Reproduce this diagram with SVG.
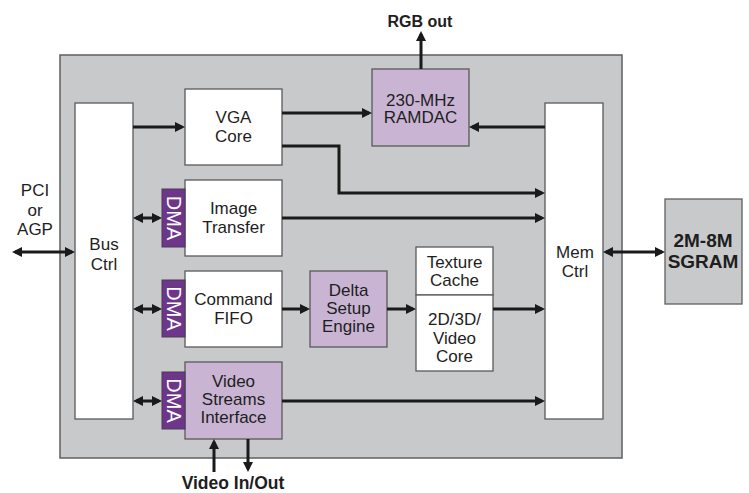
<svg xmlns="http://www.w3.org/2000/svg" width="749" height="493" viewBox="0 0 749 493">
<defs>
<style>
text{font-family:"Liberation Sans",Arial,sans-serif;fill:#1e1e1e}
.n{font-size:17px;text-anchor:middle}
.b{font-weight:bold;text-anchor:middle}
.box{fill:#ffffff;stroke:#5a5a5a;stroke-width:1.3}
.pur{fill:#c9b5d3;stroke:#5a5a5a;stroke-width:1.3}
.dma{fill:#6e368b;stroke:#4a3a55;stroke-width:1}
.dmat{font-size:20px;fill:#ffffff;text-anchor:middle;dominant-baseline:central}
.gray{fill:#c8c9cb;stroke:#5f5f5f;stroke-width:1.5}
.c{fill:none;stroke:#1a1a1a;stroke-width:3}
</style>
<marker id="ah" markerUnits="userSpaceOnUse" markerWidth="10" markerHeight="10" refX="7" refY="5" orient="auto-start-reverse">
<path d="M0,0 L10,5 L0,10 z" fill="#1a1a1a"/>
</marker>
</defs>
<rect width="749" height="493" fill="#ffffff"/>
<g id="chip"><rect class="gray" x="60" y="55" width="562" height="403"/></g>
<g id="bus-ctrl"><rect class="box" x="75" y="103" width="58" height="316"/>
<text class="n" x="104" y="250">Bus</text><text class="n" x="104" y="270">Ctrl</text></g>
<g id="mem-ctrl"><rect class="box" x="545" y="103" width="58" height="316"/>
<text class="n" x="575" y="258">Mem</text><text class="n" x="575" y="277">Ctrl</text></g>
<g id="vga-core"><rect class="box" x="185" y="89" width="97" height="76"/>
<text class="n" x="233.5" y="123">VGA</text><text class="n" x="233.5" y="142">Core</text></g>
<g id="ramdac"><rect class="pur" x="372" y="69" width="97" height="77"/>
<text class="n" x="420.5" y="105.5">230-MHz</text><text class="n" x="420.5" y="123">RAMDAC</text></g>
<g id="image-transfer"><rect class="box" x="185" y="180" width="97" height="76"/>
<text class="n" x="233.5" y="214">Image</text><text class="n" x="233.5" y="233">Transfer</text></g>
<g id="dma-1"><rect class="dma" x="162" y="189" width="23" height="58"/>
<text class="dmat" transform="translate(174,218) rotate(90)">DMA</text></g>
<g id="command-fifo"><rect class="box" x="185" y="271" width="97" height="76"/>
<text class="n" x="233.5" y="305">Command</text><text class="n" x="233.5" y="324">FIFO</text></g>
<g id="dma-2"><rect class="dma" x="162" y="280" width="23" height="57"/>
<text class="dmat" transform="translate(174,308.5) rotate(90)">DMA</text></g>
<g id="video-streams"><rect class="pur" x="185" y="362" width="97" height="77"/>
<text class="n" x="233.5" y="387">Video</text><text class="n" x="233.5" y="405">Streams</text><text class="n" x="233.5" y="423">Interface</text></g>
<g id="dma-3"><rect class="dma" x="162" y="372" width="23" height="57"/>
<text class="dmat" transform="translate(174,400.5) rotate(90)">DMA</text></g>
<g id="delta-setup"><rect class="pur" x="310" y="271" width="77" height="76"/>
<text class="n" x="348.5" y="296">Delta</text><text class="n" x="348.5" y="314">Setup</text><text class="n" x="348.5" y="332">Engine</text></g>
<g id="texture-cache"><rect class="box" x="416" y="247" width="77" height="48"/>
<text class="n" x="454.5" y="267.5">Texture</text><text class="n" x="454.5" y="285.5">Cache</text></g>
<g id="video-core"><rect class="box" x="416" y="295" width="77" height="76"/>
<text class="n" x="454.5" y="325">2D/3D/</text><text class="n" x="454.5" y="343.5">Video</text><text class="n" x="454.5" y="362">Core</text></g>
<g id="sgram"><rect class="gray" x="665" y="199" width="77" height="105" style="stroke-width:1.3"/>
<text class="b" x="703" y="247" font-size="19">2M-8M</text><text class="b" x="703" y="268" font-size="19">SGRAM</text></g>
<g id="labels">
<text class="b" x="420" y="27" font-size="16">RGB out</text>
<text class="b" x="233" y="489" font-size="17.5">Video In/Out</text>
<text style="font-size:17px;text-anchor:middle" x="35" y="196">PCI</text>
<text style="font-size:17px;text-anchor:middle" x="35" y="215.5">or</text>
<text style="font-size:17px;text-anchor:middle" x="35" y="235">AGP</text>
</g>
<g id="connectors">
<path class="c" d="M133,127 H182" marker-end="url(#ah)"/>
<path class="c" d="M282,113 H369" marker-end="url(#ah)"/>
<path class="c" d="M282,146 H339 V193 H542" marker-end="url(#ah)"/>
<path class="c" d="M282,218 H542" marker-end="url(#ah)"/>
<path class="c" d="M545,127 H472" marker-end="url(#ah)"/>
<path class="c" d="M421,69 V34" marker-end="url(#ah)"/>
<path class="c" d="M15,252 H72" marker-start="url(#ah)" marker-end="url(#ah)"/>
<path class="c" d="M136,218 H159" marker-start="url(#ah)" marker-end="url(#ah)"/>
<path class="c" d="M136,309 H159" marker-start="url(#ah)" marker-end="url(#ah)"/>
<path class="c" d="M136,401 H159" marker-start="url(#ah)" marker-end="url(#ah)"/>
<path class="c" d="M282,309 H307" marker-end="url(#ah)"/>
<path class="c" d="M387,309 H413" marker-end="url(#ah)"/>
<path class="c" d="M493,309 H542" marker-end="url(#ah)"/>
<path class="c" d="M282,401 H542" marker-end="url(#ah)"/>
<path class="c" d="M606,252 H662" marker-start="url(#ah)" marker-end="url(#ah)"/>
<path class="c" d="M214,472 V442" marker-end="url(#ah)"/>
<path class="c" d="M248,439 V469" marker-end="url(#ah)"/>
</g>
</svg>
